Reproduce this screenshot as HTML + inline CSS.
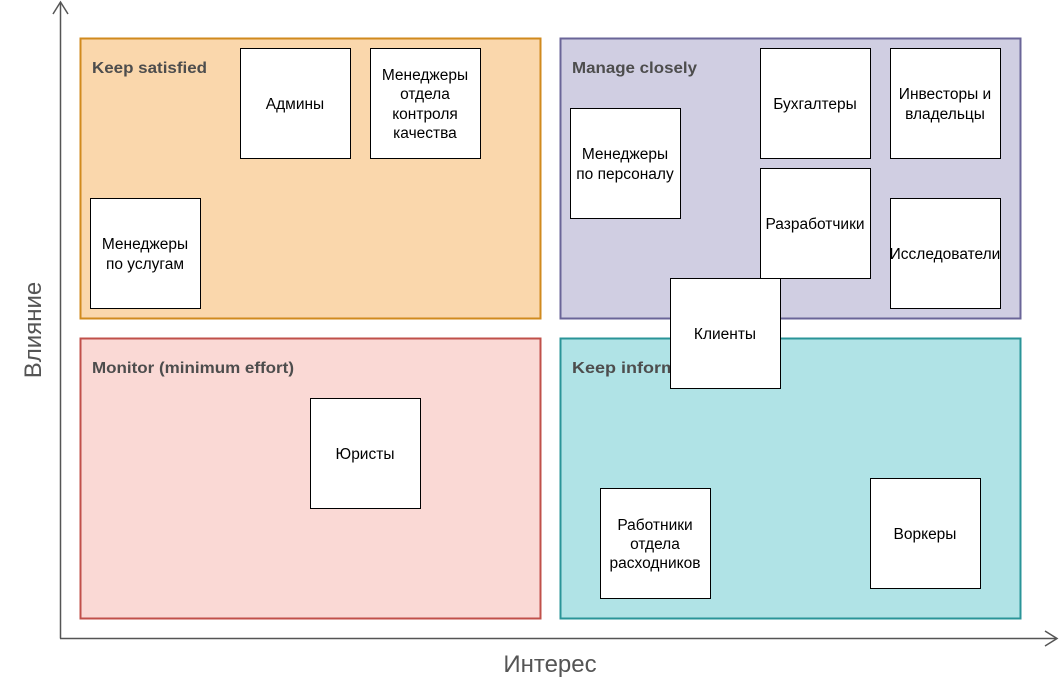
<!DOCTYPE html>
<html><head><meta charset="utf-8"><style>html,body{margin:0;padding:0;background:#fff}svg{display:block}text{font-family:"Liberation Sans","DejaVu Sans",sans-serif}</style></head><body>
<svg width="1059" height="679" xmlns="http://www.w3.org/2000/svg">
<rect x="80.5" y="38.5" width="460" height="280" fill="#fad7ac" stroke="#d08a1e" stroke-width="2"/>
<rect x="560.5" y="38.5" width="460" height="280" fill="#d0cee2" stroke="#6a6598" stroke-width="2"/>
<rect x="80.5" y="338.5" width="460" height="280" fill="#fad9d5" stroke="#c0504a" stroke-width="2"/>
<rect x="560.5" y="338.5" width="460" height="280" fill="#b0e3e6" stroke="#2a9498" stroke-width="2"/>
<g font-size="16" font-weight="bold" fill="#4d4d4d">
<text x="92" y="73" textLength="115" lengthAdjust="spacingAndGlyphs">Keep satisfied</text>
<text x="572" y="73" textLength="125" lengthAdjust="spacingAndGlyphs">Manage closely</text>
<text x="92" y="373" textLength="202" lengthAdjust="spacingAndGlyphs">Monitor (minimum effort)</text>
<text x="572" y="373" textLength="126" lengthAdjust="spacingAndGlyphs">Keep informed</text>
</g>
<g stroke="#555" stroke-width="1.5" fill="none">
<line x1="60.5" y1="2" x2="60.5" y2="638.5"/>
<line x1="60" y1="638.5" x2="1057" y2="638.5"/>
<polyline points="53,14 60.5,2 68,14"/>
<polyline points="1045,631 1057,638.5 1045,646"/>
</g>
<text x="550" y="672" font-size="24" fill="#555" text-anchor="middle">Интерес</text>
<text transform="translate(41,330) rotate(-90)" font-size="24" fill="#555" text-anchor="middle">Влияние</text>
<g fill="#fff" stroke="#000" stroke-width="1">
<rect x="240.5" y="48.5" width="110" height="110"/>
<rect x="370.5" y="48.5" width="110" height="110"/>
<rect x="90.5" y="198.5" width="110" height="110"/>
<rect x="570.5" y="108.5" width="110" height="110"/>
<rect x="760.5" y="48.5" width="110" height="110"/>
<rect x="890.5" y="48.5" width="110" height="110"/>
<rect x="760.5" y="168.5" width="110" height="110"/>
<rect x="890.5" y="198.5" width="110" height="110"/>
<rect x="670.5" y="278.5" width="110" height="110"/>
<rect x="310.5" y="398.5" width="110" height="110"/>
<rect x="600.5" y="488.5" width="110" height="110"/>
<rect x="870.5" y="478.5" width="110" height="110"/>
</g>
<g font-size="15.5" fill="#000" text-anchor="middle">
<text x="295" y="109">Админы</text>
<text x="425" y="80">Менеджеры</text><text x="425" y="99">отдела</text><text x="425" y="119">контроля</text><text x="425" y="138">качества</text>
<text x="145" y="249">Менеджеры</text><text x="145" y="269">по услугам</text>
<text x="625" y="159">Менеджеры</text><text x="625" y="179">по персоналу</text>
<text x="815" y="109">Бухгалтеры</text>
<text x="945" y="99">Инвесторы и</text><text x="945" y="119">владельцы</text>
<text x="815" y="229">Разработчики</text>
<text x="945" y="259">Исследователи</text>
<text x="725" y="339">Клиенты</text>
<text x="365" y="459">Юристы</text>
<text x="655" y="530">Работники</text><text x="655" y="549">отдела</text><text x="655" y="568">расходников</text>
<text x="925" y="539">Воркеры</text>
</g>
</svg>
</body></html>
